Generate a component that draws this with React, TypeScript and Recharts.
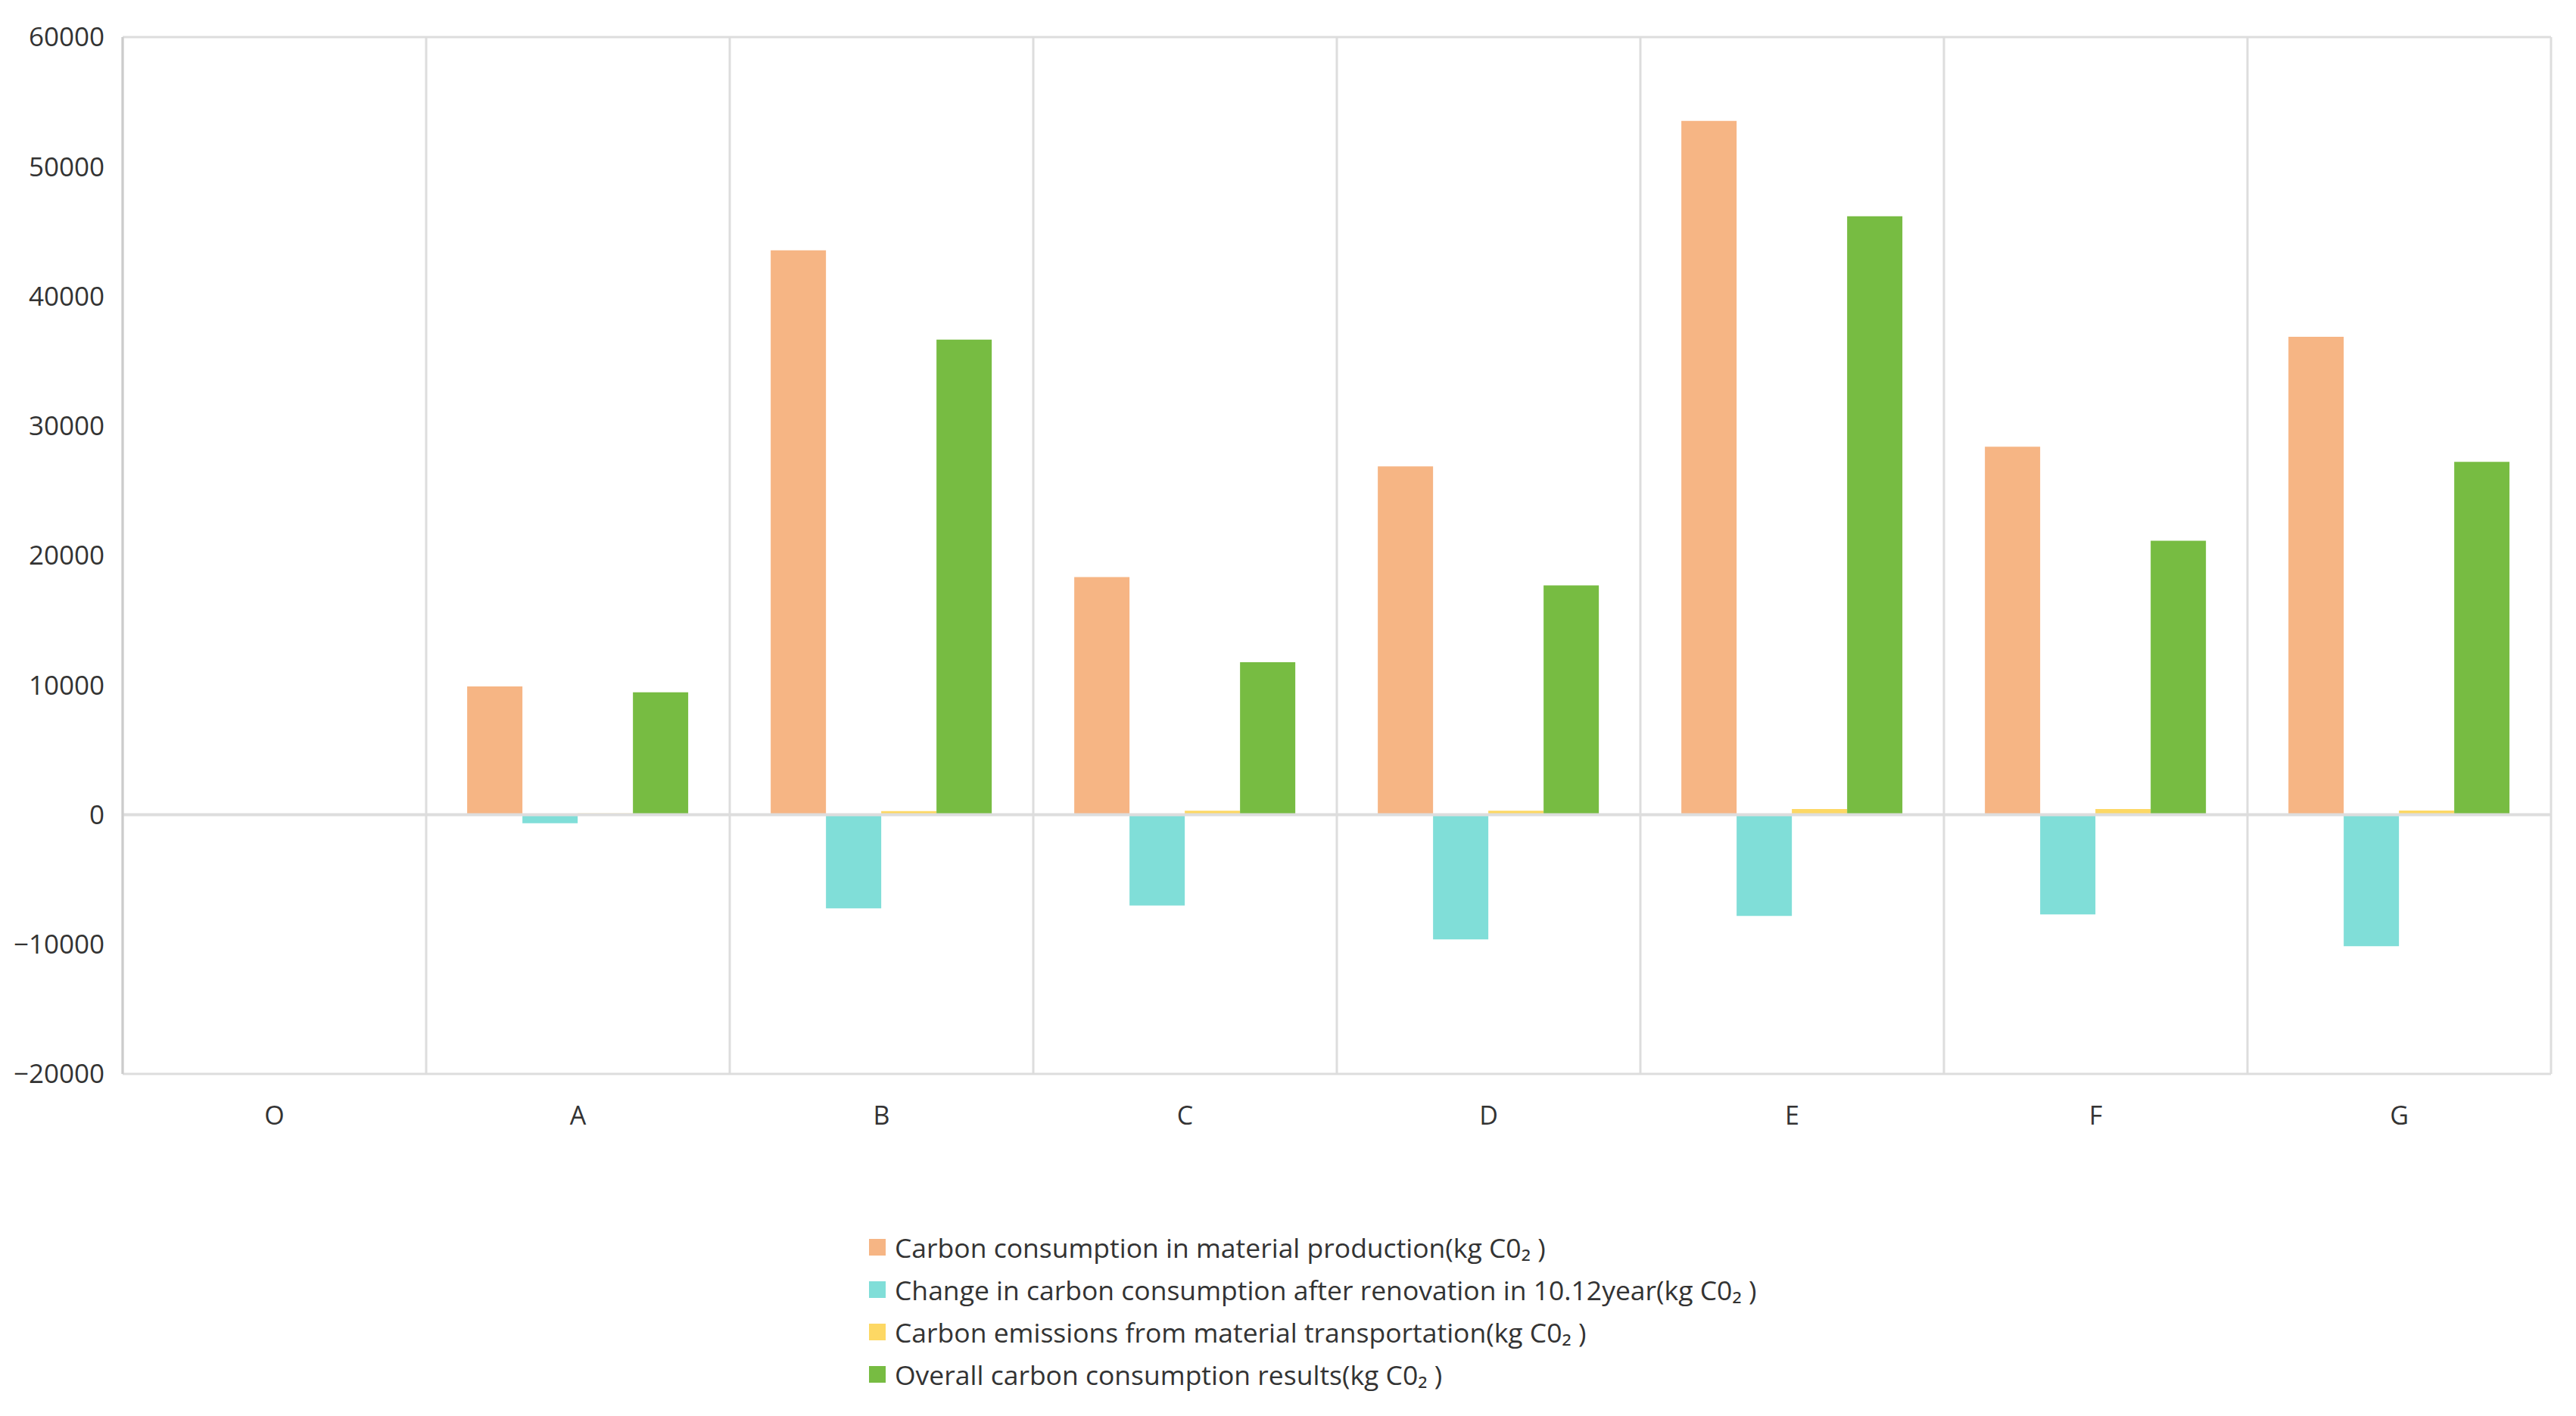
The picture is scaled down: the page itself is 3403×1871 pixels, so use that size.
import React from 'react';
import {
  BarChart,
  Bar,
  XAxis,
  YAxis,
  CartesianGrid,
  Legend,
  ReferenceLine
} from 'recharts';

// 類別與各系列數值
const categories = ['O', 'A', 'B', 'C', 'D', 'E', 'F', 'G'];
const production = [0, 9900, 43550, 18330, 26870, 53540, 28390, 36870];
const renovation = [0, -650, -7220, -7000, -9620, -7810, -7690, -10150];
const transport = [0, 100, 280, 300, 300, 440, 440, 320];
const overall = [0, 9450, 36650, 11770, 17690, 46170, 21140, 27220];
const yTicks = [-20000, -10000, 0, 10000, 20000, 30000, 40000, 50000, 60000];

const seriesNames = [
  'Carbon consumption in material production(kg C0₂ )',
  'Change in carbon consumption after renovation in 10.12year(kg C0₂ )',
  'Carbon emissions from material transportation(kg C0₂ )',
  'Overall carbon consumption results(kg C0₂ )'
];
const seriesColors = ['#F6B584', '#80DED8', '#FDD864', '#77BC42'];

const data = categories.map((name, i) => ({
  name,
  production: production[i],
  renovation: renovation[i],
  transport: transport[i],
  overall: overall[i]
}));

const FONT = '"Open Sans", "Noto Sans", sans-serif';
const GRID = '#dddddd';

const formatTick = (v: number) => (v < 0 ? `\u2212${Math.abs(v)}` : `${v}`);

// 圖例依系列原順序排列
const CustomLegend = ({ payload }: any) => {
  const items = [...(payload || [])].sort(
    (a: any, b: any) => seriesNames.indexOf(a.value) - seriesNames.indexOf(b.value)
  );
  return (
    <div style={{ fontFamily: FONT, fontSize: 35.5, color: '#333' }}>
      {items.map((entry: any, index: number) => (
        <div
          key={index}
          style={{ display: 'flex', alignItems: 'center', height: 56, whiteSpace: 'nowrap' }}
        >
          <span
            style={{
              display: 'inline-block',
              width: 22,
              height: 22,
              backgroundColor: entry.color,
              marginRight: 12
            }}
          />
          <span>{entry.value}</span>
        </div>
      ))}
    </div>
  );
};

const App: React.FC = () => {
  const keys = ['production', 'renovation', 'transport', 'overall'];

  return (
    <div style={{ position: 'absolute', left: 0, top: 0, background: '#fff' }}>
      <BarChart
        width={3403}
        height={1871}
        data={data}
        margin={{ top: 49, right: 33, left: 0, bottom: 392 }}
        barCategoryGap="13.5%"
        barGap={0}
      >
        <CartesianGrid
          stroke={GRID}
          strokeWidth={3}
          verticalCoordinatesGenerator={({ offset }: any) =>
            categories.map((_, i) => offset.left + (i * offset.width) / categories.length)
              .concat([offset.left + offset.width])
          }
          horizontalCoordinatesGenerator={({ offset }: any) => [offset.top]}
        />
        <XAxis
          dataKey="name"
          height={60}
          tickSize={0}
          tickMargin={43}
          tickLine={false}
          axisLine={{ stroke: GRID, strokeWidth: 3 }}
          tick={{ fill: '#333', fontSize: 34, fontFamily: FONT }}
        />
        <YAxis
          width={162}
          domain={[-20000, 60000]}
          ticks={yTicks}
          tickFormatter={formatTick}
          tickSize={0}
          tickMargin={24}
          tickLine={false}
          axisLine={{ stroke: '#cccccc', strokeWidth: 3 }}
          tick={{ fill: '#333', fontSize: 35, fontFamily: FONT }}
          interval={0}
        />
        <ReferenceLine y={0} stroke={GRID} strokeWidth={4} />
        <Legend
          layout="vertical"
          align="center"
          verticalAlign="middle"
          itemSorter={null as any}
          wrapperStyle={{ left: 1148, top: 1620, width: 'auto' }}
          content={<CustomLegend />}
        />
        {keys.map((key, i) => (
          <Bar
            key={key}
            dataKey={key}
            name={seriesNames[i]}
            fill={seriesColors[i]}
            isAnimationActive={false}
          />
        ))}
      </BarChart>
    </div>
  );
};

export default App;
